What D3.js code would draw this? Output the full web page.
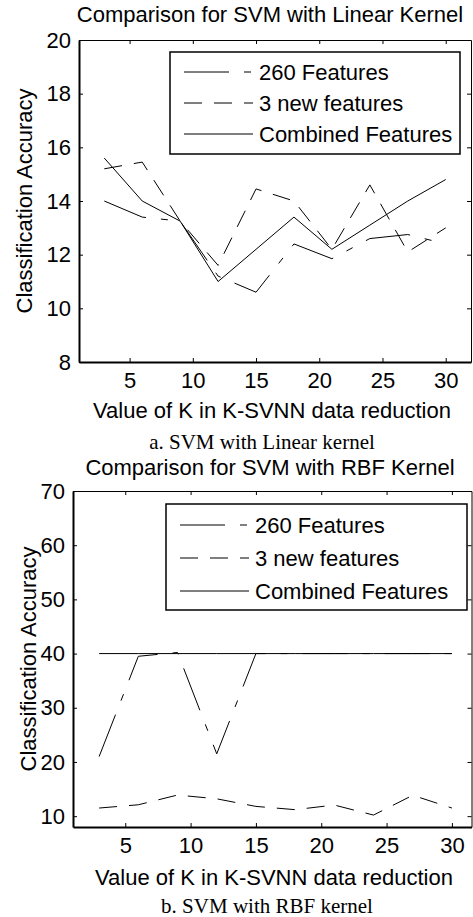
<!DOCTYPE html>
<meta charset="utf-8">
<style>
    body {
        margin: 0;
        background: #fff;
    }

    text {
        font-family: "Liberation Sans", Arial, sans-serif;
        fill: #000;
    }

    .caption {
        font-family: "Liberation Serif", "Times New Roman", serif;
    }
</style>

<body>
<div id="my_dataviz"></div>

<script src="https://d3js.org/d3.v7.min.js"></script>
<script>
  // K values used in the K-SVNN reduction
  var kValues = [3, 6, 9, 12, 15, 18, 21, 24, 27, 30];

  // a. linear kernel
  var linear260 = [14.0, 13.4, 13.25, 11.2, 10.6, 12.4, 11.85, 12.6, 12.75, 12.4];
  var linearNew3 = [15.2, 15.45, 13.25, 11.6, 14.45, 14.0, 12.2, 14.6, 12.1, 13.0];
  var linearCombined = [15.6, 14.0, 13.25, 11.0, 12.2, 13.4, 12.2, 13.1, 14.0, 14.8];

  // b. RBF kernel
  var rbf260 = [21.0, 39.5, 40.2, 21.5, 40, 40, 40, 40, 40, 40];
  var rbfNew3 = [11.5, 12.1, 13.9, 13.2, 11.8, 11.2, 12.05, 10.2, 13.85, 11.5];
  var rbfCombined = [40, 40, 40, 40, 40, 40, 40, 40, 40, 40];

  var seriesNames = ["260 Features", "3 new features", "Combined Features"];
  var linearTicks = [8, 10, 12, 14, 16, 18, 20];
  var rbfTicks = [10, 20, 30, 40, 50, 60, 70];
  var kTicks = [5, 10, 15, 20, 25, 30];

  var dashes = ["45,15,7,15", "18,12", null];
  var fs = 22;

  var svg = d3.select("#my_dataviz")
    .append("svg")
    .attr("width", 473)
    .attr("height", 917);

  function drawPanel(opt) {
    var x = d3.scaleLinear().domain(opt.xDomain).range([opt.left, opt.right]);
    var y = d3.scaleLinear().domain(opt.yDomain).range([opt.bottom, opt.top]);
    var g = svg.append("g");

    // lines
    var line = d3.line()
      .x(function (d) { return x(d[0]); })
      .y(function (d) { return y(d[1]); });

    opt.series.forEach(function (s, i) {
      g.append("path")
        .datum(kValues.map(function (k, j) { return [k, s[j]]; }))
        .attr("d", line)
        .attr("fill", "none")
        .attr("stroke", "#000")
        .attr("stroke-width", 1)
        .attr("stroke-dasharray", dashes[i]);
    });

    // box with inward ticks (matlab style)
    g.append("g")
      .attr("transform", "translate(0," + opt.bottom + ")")
      .call(d3.axisBottom(x).tickValues(kTicks).tickSizeInner(-4).tickSizeOuter(0).tickPadding(10))
      .call(function (a) { a.select(".domain").attr("stroke-width", 2); });
    g.append("g")
      .attr("transform", "translate(0," + opt.top + ")")
      .call(d3.axisTop(x).tickValues(kTicks).tickSizeInner(-4).tickSizeOuter(0).tickFormat(""));
    g.append("g")
      .attr("transform", "translate(" + opt.left + ",0)")
      .call(d3.axisLeft(y).tickValues(opt.yTicks).tickSizeInner(-4).tickSizeOuter(0).tickPadding(8))
      .call(function (a) { a.select(".domain").attr("stroke-width", 2); });
    g.append("g")
      .attr("transform", "translate(" + opt.right + ",0)")
      .call(d3.axisRight(y).tickValues(opt.yTicks).tickSizeInner(-4).tickSizeOuter(0).tickFormat(""));

    g.selectAll(".tick text")
      .style("font-family", "'Liberation Sans', Arial, sans-serif")
      .style("font-size", fs + "px");

    // legend
    var lg = g.append("g");
    lg.append("rect")
      .attr("x", opt.legend.x).attr("y", opt.legend.y)
      .attr("width", opt.legend.w).attr("height", opt.legend.h)
      .attr("fill", "#fff").attr("stroke", "#000").attr("stroke-width", 1.5);
    seriesNames.forEach(function (name, i) {
      var cy = opt.legend.y + opt.legend.first + i * opt.legend.step;
      lg.append("line")
        .attr("x1", opt.legend.x + 14).attr("x2", opt.legend.x + 83)
        .attr("y1", cy).attr("y2", cy)
        .attr("stroke", "#000").attr("stroke-width", 1)
        .attr("stroke-dasharray", dashes[i]);
      lg.append("text")
        .attr("x", opt.legend.x + 89).attr("y", cy + 8)
        .attr("font-size", fs)
        .text(name);
    });

    // titles and labels
    g.append("text")
      .attr("x", opt.titleX).attr("y", opt.titleY)
      .attr("text-anchor", "middle").attr("font-size", fs)
      .text(opt.title);
    g.append("text")
      .attr("x", opt.xLabelX).attr("y", opt.xLabelY)
      .attr("text-anchor", "middle").attr("font-size", fs)
      .text("Value of K in K-SVNN data reduction");
    g.append("text")
      .attr("transform", "translate(" + opt.yLabelX + "," + ((opt.top + opt.bottom) / 2) + ") rotate(-90)")
      .attr("text-anchor", "middle").attr("font-size", fs)
      .text("Classification Accuracy");
    g.append("text")
      .attr("class", "caption")
      .attr("x", opt.capX).attr("y", opt.capY)
      .attr("text-anchor", "middle").attr("font-size", 21)
      .text(opt.caption);
  }

  drawPanel({
    left: 79, right: 471, top: 40, bottom: 362,
    xDomain: [1, 32], yDomain: [8, 20], yTicks: linearTicks,
    series: [linear260, linearNew3, linearCombined],
    legend: { x: 170, y: 52, w: 290, h: 102, first: 20, step: 31 },
    title: "Comparison for SVM with Linear Kernel", titleX: 270, titleY: 22,
    xLabelX: 272, xLabelY: 418, yLabelX: 32,
    caption: "a. SVM with Linear kernel", capX: 262, capY: 449
  });

  drawPanel({
    left: 73, right: 471.5, top: 491, bottom: 827,
    xDomain: [1, 31.5], yDomain: [8, 70], yTicks: rbfTicks,
    series: [rbf260, rbfNew3, rbfCombined],
    legend: { x: 166, y: 504, w: 301, h: 106, first: 21, step: 33 },
    title: "Comparison for SVM with RBF Kernel", titleX: 270, titleY: 475,
    xLabelX: 274, xLabelY: 885, yLabelX: 36,
    caption: "b. SVM with RBF kernel", capX: 267, capY: 913
  });
</script>
</body>
